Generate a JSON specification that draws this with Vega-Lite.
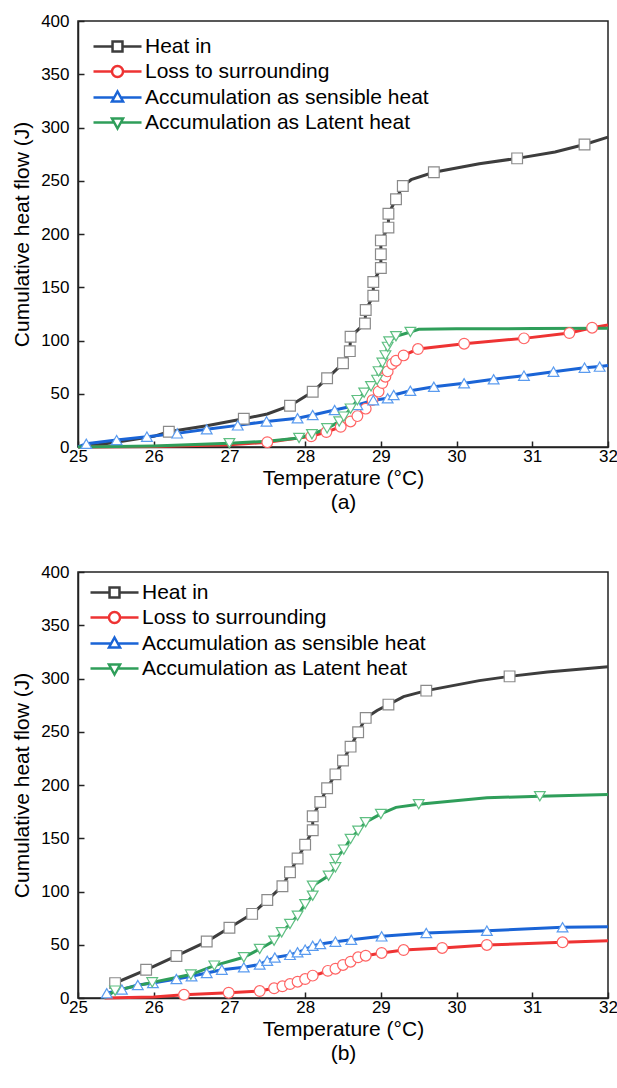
{
  "$schema": "https://vega.github.io/schema/vega-lite/v6.json",
  "padding": {"left": 10, "top": 11, "right": 0, "bottom": 5},
  "spacing": 49,
  "config": {
    "font": "Liberation Sans",
    "view": {"stroke": "#222222", "strokeWidth": 1.5},
    "axis": {
      "domainColor": "#222222", "domainWidth": 1.5,
      "tickColor": "#222222", "tickWidth": 1.5,
      "labelFont": "Liberation Sans", "labelFontSize": 17, "labelColor": "#000000",
      "titleFont": "Liberation Sans", "titleFontSize": 21, "titleFontWeight": "normal", "titleColor": "#000000",
      "grid": false, "labelFlush": false, "labelOverlap": false
    }
  },
  "datasets": {
    "lines": [
      {"panel":"a","series":"Heat in","T":25.05,"Q":0},{"panel":"a","series":"Heat in","T":25.5,"Q":4.5},{"panel":"a","series":"Heat in","T":26.0,"Q":10},{"panel":"a","series":"Heat in","T":26.2,"Q":14.4},{"panel":"a","series":"Heat in","T":26.7,"Q":20},{"panel":"a","series":"Heat in","T":27.19,"Q":26.5},{"panel":"a","series":"Heat in","T":27.5,"Q":31},{"panel":"a","series":"Heat in","T":27.8,"Q":38.8},{"panel":"a","series":"Heat in","T":28.1,"Q":51.9},{"panel":"a","series":"Heat in","T":28.29,"Q":64.5},{"panel":"a","series":"Heat in","T":28.5,"Q":78.6},{"panel":"a","series":"Heat in","T":28.59,"Q":90},{"panel":"a","series":"Heat in","T":28.6,"Q":103.6},{"panel":"a","series":"Heat in","T":28.79,"Q":116},{"panel":"a","series":"Heat in","T":28.8,"Q":128.6},{"panel":"a","series":"Heat in","T":28.9,"Q":142},{"panel":"a","series":"Heat in","T":28.9,"Q":155},{"panel":"a","series":"Heat in","T":29.0,"Q":168},{"panel":"a","series":"Heat in","T":29.0,"Q":181},{"panel":"a","series":"Heat in","T":29.0,"Q":194},{"panel":"a","series":"Heat in","T":29.1,"Q":206},{"panel":"a","series":"Heat in","T":29.1,"Q":219},{"panel":"a","series":"Heat in","T":29.2,"Q":232.6},{"panel":"a","series":"Heat in","T":29.29,"Q":245},{"panel":"a","series":"Heat in","T":29.4,"Q":251},{"panel":"a","series":"Heat in","T":29.7,"Q":258},{"panel":"a","series":"Heat in","T":30.3,"Q":266},{"panel":"a","series":"Heat in","T":30.8,"Q":271},{"panel":"a","series":"Heat in","T":31.3,"Q":277},{"panel":"a","series":"Heat in","T":31.69,"Q":284},{"panel":"a","series":"Heat in","T":32.0,"Q":291},
      {"panel":"a","series":"Loss to surrounding","T":25.0,"Q":0},{"panel":"a","series":"Loss to surrounding","T":26.0,"Q":0.5},{"panel":"a","series":"Loss to surrounding","T":27.0,"Q":2},{"panel":"a","series":"Loss to surrounding","T":27.5,"Q":4.5},{"panel":"a","series":"Loss to surrounding","T":28.08,"Q":10},{"panel":"a","series":"Loss to surrounding","T":28.28,"Q":14},{"panel":"a","series":"Loss to surrounding","T":28.47,"Q":19},{"panel":"a","series":"Loss to surrounding","T":28.6,"Q":24},{"panel":"a","series":"Loss to surrounding","T":28.69,"Q":29},{"panel":"a","series":"Loss to surrounding","T":28.8,"Q":36},{"panel":"a","series":"Loss to surrounding","T":28.89,"Q":44},{"panel":"a","series":"Loss to surrounding","T":28.97,"Q":52},{"panel":"a","series":"Loss to surrounding","T":29.02,"Q":60},{"panel":"a","series":"Loss to surrounding","T":29.06,"Q":66},{"panel":"a","series":"Loss to surrounding","T":29.09,"Q":71},{"panel":"a","series":"Loss to surrounding","T":29.15,"Q":78},{"panel":"a","series":"Loss to surrounding","T":29.2,"Q":81},{"panel":"a","series":"Loss to surrounding","T":29.3,"Q":86},{"panel":"a","series":"Loss to surrounding","T":29.49,"Q":92},{"panel":"a","series":"Loss to surrounding","T":30.1,"Q":97},{"panel":"a","series":"Loss to surrounding","T":30.89,"Q":102},{"panel":"a","series":"Loss to surrounding","T":31.49,"Q":107},{"panel":"a","series":"Loss to surrounding","T":31.79,"Q":112},{"panel":"a","series":"Loss to surrounding","T":32.0,"Q":114.5},
      {"panel":"a","series":"Accumulation as sensible heat","T":25.0,"Q":0},{"panel":"a","series":"Accumulation as sensible heat","T":25.11,"Q":3},{"panel":"a","series":"Accumulation as sensible heat","T":25.51,"Q":6.5},{"panel":"a","series":"Accumulation as sensible heat","T":25.91,"Q":9.7},{"panel":"a","series":"Accumulation as sensible heat","T":26.31,"Q":12.8},{"panel":"a","series":"Accumulation as sensible heat","T":26.7,"Q":16.6},{"panel":"a","series":"Accumulation as sensible heat","T":27.11,"Q":20.3},{"panel":"a","series":"Accumulation as sensible heat","T":27.49,"Q":24},{"panel":"a","series":"Accumulation as sensible heat","T":27.9,"Q":27},{"panel":"a","series":"Accumulation as sensible heat","T":28.1,"Q":30},{"panel":"a","series":"Accumulation as sensible heat","T":28.39,"Q":34.7},{"panel":"a","series":"Accumulation as sensible heat","T":28.69,"Q":39.4},{"panel":"a","series":"Accumulation as sensible heat","T":28.9,"Q":44},{"panel":"a","series":"Accumulation as sensible heat","T":29.09,"Q":45.7},{"panel":"a","series":"Accumulation as sensible heat","T":29.17,"Q":48.8},{"panel":"a","series":"Accumulation as sensible heat","T":29.39,"Q":52.8},{"panel":"a","series":"Accumulation as sensible heat","T":29.7,"Q":56.6},{"panel":"a","series":"Accumulation as sensible heat","T":30.1,"Q":59.8},{"panel":"a","series":"Accumulation as sensible heat","T":30.49,"Q":63.6},{"panel":"a","series":"Accumulation as sensible heat","T":30.89,"Q":67},{"panel":"a","series":"Accumulation as sensible heat","T":31.28,"Q":70.7},{"panel":"a","series":"Accumulation as sensible heat","T":31.69,"Q":74.5},{"panel":"a","series":"Accumulation as sensible heat","T":31.89,"Q":75.5},{"panel":"a","series":"Accumulation as sensible heat","T":32.0,"Q":76.5},
      {"panel":"a","series":"Accumulation as Latent heat","T":25.0,"Q":0},{"panel":"a","series":"Accumulation as Latent heat","T":26.0,"Q":1},{"panel":"a","series":"Accumulation as Latent heat","T":27.0,"Q":3.5},{"panel":"a","series":"Accumulation as Latent heat","T":27.5,"Q":5.5},{"panel":"a","series":"Accumulation as Latent heat","T":27.92,"Q":8.5},{"panel":"a","series":"Accumulation as Latent heat","T":28.09,"Q":12},{"panel":"a","series":"Accumulation as Latent heat","T":28.29,"Q":17.5},{"panel":"a","series":"Accumulation as Latent heat","T":28.45,"Q":24},{"panel":"a","series":"Accumulation as Latent heat","T":28.51,"Q":28.5},{"panel":"a","series":"Accumulation as Latent heat","T":28.6,"Q":36},{"panel":"a","series":"Accumulation as Latent heat","T":28.69,"Q":44},{"panel":"a","series":"Accumulation as Latent heat","T":28.78,"Q":51},{"panel":"a","series":"Accumulation as Latent heat","T":28.87,"Q":57},{"panel":"a","series":"Accumulation as Latent heat","T":28.95,"Q":63},{"panel":"a","series":"Accumulation as Latent heat","T":28.97,"Q":71},{"panel":"a","series":"Accumulation as Latent heat","T":29.02,"Q":79},{"panel":"a","series":"Accumulation as Latent heat","T":29.06,"Q":86},{"panel":"a","series":"Accumulation as Latent heat","T":29.09,"Q":94},{"panel":"a","series":"Accumulation as Latent heat","T":29.11,"Q":99},{"panel":"a","series":"Accumulation as Latent heat","T":29.2,"Q":104},{"panel":"a","series":"Accumulation as Latent heat","T":29.39,"Q":108},{"panel":"a","series":"Accumulation as Latent heat","T":29.5,"Q":110.5},{"panel":"a","series":"Accumulation as Latent heat","T":30.0,"Q":111},{"panel":"a","series":"Accumulation as Latent heat","T":31.0,"Q":111.2},{"panel":"a","series":"Accumulation as Latent heat","T":32.0,"Q":111.5},
      {"panel":"b","series":"Heat in","T":25.45,"Q":11},{"panel":"b","series":"Heat in","T":25.49,"Q":14},{"panel":"b","series":"Heat in","T":25.9,"Q":26.5},{"panel":"b","series":"Heat in","T":26.3,"Q":39.5},{"panel":"b","series":"Heat in","T":26.7,"Q":53},{"panel":"b","series":"Heat in","T":27.0,"Q":66},{"panel":"b","series":"Heat in","T":27.3,"Q":79},{"panel":"b","series":"Heat in","T":27.5,"Q":92},{"panel":"b","series":"Heat in","T":27.7,"Q":105},{"panel":"b","series":"Heat in","T":27.8,"Q":118},{"panel":"b","series":"Heat in","T":27.9,"Q":131},{"panel":"b","series":"Heat in","T":28.0,"Q":144},{"panel":"b","series":"Heat in","T":28.1,"Q":157.5},{"panel":"b","series":"Heat in","T":28.1,"Q":170.6},{"panel":"b","series":"Heat in","T":28.2,"Q":184},{"panel":"b","series":"Heat in","T":28.29,"Q":197},{"panel":"b","series":"Heat in","T":28.4,"Q":210},{"panel":"b","series":"Heat in","T":28.5,"Q":223},{"panel":"b","series":"Heat in","T":28.6,"Q":236},{"panel":"b","series":"Heat in","T":28.7,"Q":249.5},{"panel":"b","series":"Heat in","T":28.8,"Q":263},{"panel":"b","series":"Heat in","T":28.95,"Q":270},{"panel":"b","series":"Heat in","T":29.1,"Q":275.5},{"panel":"b","series":"Heat in","T":29.3,"Q":283},{"panel":"b","series":"Heat in","T":29.6,"Q":288.6},{"panel":"b","series":"Heat in","T":30.3,"Q":298},{"panel":"b","series":"Heat in","T":30.7,"Q":302},{"panel":"b","series":"Heat in","T":31.2,"Q":306},{"panel":"b","series":"Heat in","T":32.0,"Q":311},
      {"panel":"b","series":"Loss to surrounding","T":25.35,"Q":0},{"panel":"b","series":"Loss to surrounding","T":26.0,"Q":1},{"panel":"b","series":"Loss to surrounding","T":26.4,"Q":3},{"panel":"b","series":"Loss to surrounding","T":26.99,"Q":5},{"panel":"b","series":"Loss to surrounding","T":27.4,"Q":6.5},{"panel":"b","series":"Loss to surrounding","T":27.59,"Q":9.1},{"panel":"b","series":"Loss to surrounding","T":27.7,"Q":11},{"panel":"b","series":"Loss to surrounding","T":27.8,"Q":13.1},{"panel":"b","series":"Loss to surrounding","T":27.9,"Q":15.3},{"panel":"b","series":"Loss to surrounding","T":28.0,"Q":17.8},{"panel":"b","series":"Loss to surrounding","T":28.1,"Q":21},{"panel":"b","series":"Loss to surrounding","T":28.2,"Q":23},{"panel":"b","series":"Loss to surrounding","T":28.3,"Q":25.5},{"panel":"b","series":"Loss to surrounding","T":28.4,"Q":27.5},{"panel":"b","series":"Loss to surrounding","T":28.5,"Q":31},{"panel":"b","series":"Loss to surrounding","T":28.6,"Q":34.1},{"panel":"b","series":"Loss to surrounding","T":28.7,"Q":38.2},{"panel":"b","series":"Loss to surrounding","T":28.8,"Q":39.7},{"panel":"b","series":"Loss to surrounding","T":29.01,"Q":42.3},{"panel":"b","series":"Loss to surrounding","T":29.3,"Q":45},{"panel":"b","series":"Loss to surrounding","T":29.81,"Q":47},{"panel":"b","series":"Loss to surrounding","T":30.4,"Q":49.8},{"panel":"b","series":"Loss to surrounding","T":31.4,"Q":52.3},{"panel":"b","series":"Loss to surrounding","T":32.0,"Q":53.8},
      {"panel":"b","series":"Accumulation as sensible heat","T":25.35,"Q":0},{"panel":"b","series":"Accumulation as sensible heat","T":25.38,"Q":4.4},{"panel":"b","series":"Accumulation as sensible heat","T":25.58,"Q":8},{"panel":"b","series":"Accumulation as sensible heat","T":25.79,"Q":12.2},{"panel":"b","series":"Accumulation as sensible heat","T":25.99,"Q":14.1},{"panel":"b","series":"Accumulation as sensible heat","T":26.3,"Q":17.8},{"panel":"b","series":"Accumulation as sensible heat","T":26.5,"Q":20.4},{"panel":"b","series":"Accumulation as sensible heat","T":26.7,"Q":23.5},{"panel":"b","series":"Accumulation as sensible heat","T":26.9,"Q":26.6},{"panel":"b","series":"Accumulation as sensible heat","T":27.19,"Q":28.8},{"panel":"b","series":"Accumulation as sensible heat","T":27.4,"Q":31.5},{"panel":"b","series":"Accumulation as sensible heat","T":27.5,"Q":35},{"panel":"b","series":"Accumulation as sensible heat","T":27.6,"Q":38},{"panel":"b","series":"Accumulation as sensible heat","T":27.8,"Q":40.5},{"panel":"b","series":"Accumulation as sensible heat","T":27.9,"Q":42.9},{"panel":"b","series":"Accumulation as sensible heat","T":28.0,"Q":45.4},{"panel":"b","series":"Accumulation as sensible heat","T":28.1,"Q":49},{"panel":"b","series":"Accumulation as sensible heat","T":28.2,"Q":50.7},{"panel":"b","series":"Accumulation as sensible heat","T":28.4,"Q":52.9},{"panel":"b","series":"Accumulation as sensible heat","T":28.61,"Q":54.7},{"panel":"b","series":"Accumulation as sensible heat","T":29.01,"Q":57.9},{"panel":"b","series":"Accumulation as sensible heat","T":29.6,"Q":61},{"panel":"b","series":"Accumulation as sensible heat","T":30.4,"Q":63.2},{"panel":"b","series":"Accumulation as sensible heat","T":31.4,"Q":66.4},{"panel":"b","series":"Accumulation as sensible heat","T":32.0,"Q":67},
      {"panel":"b","series":"Accumulation as Latent heat","T":25.35,"Q":0},{"panel":"b","series":"Accumulation as Latent heat","T":25.49,"Q":6.9},{"panel":"b","series":"Accumulation as Latent heat","T":25.98,"Q":14.7},{"panel":"b","series":"Accumulation as Latent heat","T":26.49,"Q":22},{"panel":"b","series":"Accumulation as Latent heat","T":26.8,"Q":30.4},{"panel":"b","series":"Accumulation as Latent heat","T":27.19,"Q":38.2},{"panel":"b","series":"Accumulation as Latent heat","T":27.4,"Q":46},{"panel":"b","series":"Accumulation as Latent heat","T":27.59,"Q":53.8},{"panel":"b","series":"Accumulation as Latent heat","T":27.69,"Q":61.7},{"panel":"b","series":"Accumulation as Latent heat","T":27.8,"Q":69.5},{"panel":"b","series":"Accumulation as Latent heat","T":27.9,"Q":77.3},{"panel":"b","series":"Accumulation as Latent heat","T":28.0,"Q":88},{"panel":"b","series":"Accumulation as Latent heat","T":28.1,"Q":96},{"panel":"b","series":"Accumulation as Latent heat","T":28.1,"Q":105.4},{"panel":"b","series":"Accumulation as Latent heat","T":28.31,"Q":114.8},{"panel":"b","series":"Accumulation as Latent heat","T":28.4,"Q":122.7},{"panel":"b","series":"Accumulation as Latent heat","T":28.4,"Q":130.5},{"panel":"b","series":"Accumulation as Latent heat","T":28.51,"Q":139.3},{"panel":"b","series":"Accumulation as Latent heat","T":28.6,"Q":149.3},{"panel":"b","series":"Accumulation as Latent heat","T":28.7,"Q":157.1},{"panel":"b","series":"Accumulation as Latent heat","T":28.8,"Q":165},{"panel":"b","series":"Accumulation as Latent heat","T":29.0,"Q":172.8},{"panel":"b","series":"Accumulation as Latent heat","T":29.2,"Q":179},{"panel":"b","series":"Accumulation as Latent heat","T":29.5,"Q":182},{"panel":"b","series":"Accumulation as Latent heat","T":30.4,"Q":188},{"panel":"b","series":"Accumulation as Latent heat","T":31.1,"Q":189.5},{"panel":"b","series":"Accumulation as Latent heat","T":32.0,"Q":191}
    ],
    "markers": [
      {"panel":"a","series":"Heat in","T":26.2,"Q":14.4},{"panel":"a","series":"Heat in","T":27.19,"Q":26.5},{"panel":"a","series":"Heat in","T":27.8,"Q":38.8},{"panel":"a","series":"Heat in","T":28.1,"Q":51.9},{"panel":"a","series":"Heat in","T":28.29,"Q":64.5},{"panel":"a","series":"Heat in","T":28.5,"Q":78.6},{"panel":"a","series":"Heat in","T":28.59,"Q":90},{"panel":"a","series":"Heat in","T":28.6,"Q":103.6},{"panel":"a","series":"Heat in","T":28.79,"Q":116},{"panel":"a","series":"Heat in","T":28.8,"Q":128.6},{"panel":"a","series":"Heat in","T":28.9,"Q":142},{"panel":"a","series":"Heat in","T":28.9,"Q":155},{"panel":"a","series":"Heat in","T":29.0,"Q":168},{"panel":"a","series":"Heat in","T":29.0,"Q":181},{"panel":"a","series":"Heat in","T":29.0,"Q":194},{"panel":"a","series":"Heat in","T":29.1,"Q":206},{"panel":"a","series":"Heat in","T":29.1,"Q":219},{"panel":"a","series":"Heat in","T":29.2,"Q":232.6},{"panel":"a","series":"Heat in","T":29.29,"Q":245},{"panel":"a","series":"Heat in","T":29.7,"Q":258},{"panel":"a","series":"Heat in","T":30.8,"Q":271},{"panel":"a","series":"Heat in","T":31.69,"Q":284},
      {"panel":"a","series":"Loss to surrounding","T":27.5,"Q":4.5},{"panel":"a","series":"Loss to surrounding","T":28.08,"Q":10},{"panel":"a","series":"Loss to surrounding","T":28.28,"Q":14},{"panel":"a","series":"Loss to surrounding","T":28.47,"Q":19},{"panel":"a","series":"Loss to surrounding","T":28.6,"Q":24},{"panel":"a","series":"Loss to surrounding","T":28.69,"Q":29},{"panel":"a","series":"Loss to surrounding","T":28.8,"Q":36},{"panel":"a","series":"Loss to surrounding","T":28.89,"Q":44},{"panel":"a","series":"Loss to surrounding","T":28.97,"Q":52},{"panel":"a","series":"Loss to surrounding","T":29.02,"Q":60},{"panel":"a","series":"Loss to surrounding","T":29.06,"Q":66},{"panel":"a","series":"Loss to surrounding","T":29.09,"Q":71},{"panel":"a","series":"Loss to surrounding","T":29.15,"Q":78},{"panel":"a","series":"Loss to surrounding","T":29.2,"Q":81},{"panel":"a","series":"Loss to surrounding","T":29.3,"Q":86},{"panel":"a","series":"Loss to surrounding","T":29.49,"Q":92},{"panel":"a","series":"Loss to surrounding","T":30.1,"Q":97},{"panel":"a","series":"Loss to surrounding","T":30.89,"Q":102},{"panel":"a","series":"Loss to surrounding","T":31.49,"Q":107},{"panel":"a","series":"Loss to surrounding","T":31.79,"Q":112},
      {"panel":"a","series":"Accumulation as sensible heat","T":25.11,"Q":3},{"panel":"a","series":"Accumulation as sensible heat","T":25.51,"Q":6.5},{"panel":"a","series":"Accumulation as sensible heat","T":25.91,"Q":9.7},{"panel":"a","series":"Accumulation as sensible heat","T":26.31,"Q":12.8},{"panel":"a","series":"Accumulation as sensible heat","T":26.7,"Q":16.6},{"panel":"a","series":"Accumulation as sensible heat","T":27.11,"Q":20.3},{"panel":"a","series":"Accumulation as sensible heat","T":27.49,"Q":24},{"panel":"a","series":"Accumulation as sensible heat","T":27.9,"Q":27},{"panel":"a","series":"Accumulation as sensible heat","T":28.1,"Q":30},{"panel":"a","series":"Accumulation as sensible heat","T":28.39,"Q":34.7},{"panel":"a","series":"Accumulation as sensible heat","T":28.69,"Q":39.4},{"panel":"a","series":"Accumulation as sensible heat","T":28.9,"Q":44},{"panel":"a","series":"Accumulation as sensible heat","T":29.09,"Q":45.7},{"panel":"a","series":"Accumulation as sensible heat","T":29.17,"Q":48.8},{"panel":"a","series":"Accumulation as sensible heat","T":29.39,"Q":52.8},{"panel":"a","series":"Accumulation as sensible heat","T":29.7,"Q":56.6},{"panel":"a","series":"Accumulation as sensible heat","T":30.1,"Q":59.8},{"panel":"a","series":"Accumulation as sensible heat","T":30.49,"Q":63.6},{"panel":"a","series":"Accumulation as sensible heat","T":30.89,"Q":67},{"panel":"a","series":"Accumulation as sensible heat","T":31.28,"Q":70.7},{"panel":"a","series":"Accumulation as sensible heat","T":31.69,"Q":74.5},{"panel":"a","series":"Accumulation as sensible heat","T":31.89,"Q":75.5},
      {"panel":"a","series":"Accumulation as Latent heat","T":27.0,"Q":3.5},{"panel":"a","series":"Accumulation as Latent heat","T":27.92,"Q":8.5},{"panel":"a","series":"Accumulation as Latent heat","T":28.09,"Q":12},{"panel":"a","series":"Accumulation as Latent heat","T":28.29,"Q":17.5},{"panel":"a","series":"Accumulation as Latent heat","T":28.45,"Q":24},{"panel":"a","series":"Accumulation as Latent heat","T":28.51,"Q":28.5},{"panel":"a","series":"Accumulation as Latent heat","T":28.6,"Q":36},{"panel":"a","series":"Accumulation as Latent heat","T":28.69,"Q":44},{"panel":"a","series":"Accumulation as Latent heat","T":28.78,"Q":51},{"panel":"a","series":"Accumulation as Latent heat","T":28.87,"Q":57},{"panel":"a","series":"Accumulation as Latent heat","T":28.95,"Q":63},{"panel":"a","series":"Accumulation as Latent heat","T":28.97,"Q":71},{"panel":"a","series":"Accumulation as Latent heat","T":29.02,"Q":79},{"panel":"a","series":"Accumulation as Latent heat","T":29.06,"Q":86},{"panel":"a","series":"Accumulation as Latent heat","T":29.09,"Q":94},{"panel":"a","series":"Accumulation as Latent heat","T":29.11,"Q":99},{"panel":"a","series":"Accumulation as Latent heat","T":29.2,"Q":104},{"panel":"a","series":"Accumulation as Latent heat","T":29.39,"Q":108},
      {"panel":"b","series":"Heat in","T":25.49,"Q":14},{"panel":"b","series":"Heat in","T":25.9,"Q":26.5},{"panel":"b","series":"Heat in","T":26.3,"Q":39.5},{"panel":"b","series":"Heat in","T":26.7,"Q":53},{"panel":"b","series":"Heat in","T":27.0,"Q":66},{"panel":"b","series":"Heat in","T":27.3,"Q":79},{"panel":"b","series":"Heat in","T":27.5,"Q":92},{"panel":"b","series":"Heat in","T":27.7,"Q":105},{"panel":"b","series":"Heat in","T":27.8,"Q":118},{"panel":"b","series":"Heat in","T":27.9,"Q":131},{"panel":"b","series":"Heat in","T":28.0,"Q":144},{"panel":"b","series":"Heat in","T":28.1,"Q":157.5},{"panel":"b","series":"Heat in","T":28.1,"Q":170.6},{"panel":"b","series":"Heat in","T":28.2,"Q":184},{"panel":"b","series":"Heat in","T":28.29,"Q":197},{"panel":"b","series":"Heat in","T":28.4,"Q":210},{"panel":"b","series":"Heat in","T":28.5,"Q":223},{"panel":"b","series":"Heat in","T":28.6,"Q":236},{"panel":"b","series":"Heat in","T":28.7,"Q":249.5},{"panel":"b","series":"Heat in","T":28.8,"Q":263},{"panel":"b","series":"Heat in","T":29.1,"Q":275.5},{"panel":"b","series":"Heat in","T":29.6,"Q":288.6},{"panel":"b","series":"Heat in","T":30.7,"Q":302},
      {"panel":"b","series":"Loss to surrounding","T":26.4,"Q":3},{"panel":"b","series":"Loss to surrounding","T":26.99,"Q":5},{"panel":"b","series":"Loss to surrounding","T":27.4,"Q":6.5},{"panel":"b","series":"Loss to surrounding","T":27.59,"Q":9.1},{"panel":"b","series":"Loss to surrounding","T":27.7,"Q":11},{"panel":"b","series":"Loss to surrounding","T":27.8,"Q":13.1},{"panel":"b","series":"Loss to surrounding","T":27.9,"Q":15.3},{"panel":"b","series":"Loss to surrounding","T":28.0,"Q":17.8},{"panel":"b","series":"Loss to surrounding","T":28.1,"Q":21},{"panel":"b","series":"Loss to surrounding","T":28.3,"Q":25.5},{"panel":"b","series":"Loss to surrounding","T":28.4,"Q":27.5},{"panel":"b","series":"Loss to surrounding","T":28.5,"Q":31},{"panel":"b","series":"Loss to surrounding","T":28.6,"Q":34.1},{"panel":"b","series":"Loss to surrounding","T":28.7,"Q":38.2},{"panel":"b","series":"Loss to surrounding","T":28.8,"Q":39.7},{"panel":"b","series":"Loss to surrounding","T":29.01,"Q":42.3},{"panel":"b","series":"Loss to surrounding","T":29.3,"Q":45},{"panel":"b","series":"Loss to surrounding","T":29.81,"Q":47},{"panel":"b","series":"Loss to surrounding","T":30.4,"Q":49.8},{"panel":"b","series":"Loss to surrounding","T":31.4,"Q":52.3},
      {"panel":"b","series":"Accumulation as sensible heat","T":25.38,"Q":4.4},{"panel":"b","series":"Accumulation as sensible heat","T":25.58,"Q":8},{"panel":"b","series":"Accumulation as sensible heat","T":25.79,"Q":12.2},{"panel":"b","series":"Accumulation as sensible heat","T":25.99,"Q":14.1},{"panel":"b","series":"Accumulation as sensible heat","T":26.3,"Q":17.8},{"panel":"b","series":"Accumulation as sensible heat","T":26.5,"Q":20.4},{"panel":"b","series":"Accumulation as sensible heat","T":26.7,"Q":23.5},{"panel":"b","series":"Accumulation as sensible heat","T":26.9,"Q":26.6},{"panel":"b","series":"Accumulation as sensible heat","T":27.19,"Q":28.8},{"panel":"b","series":"Accumulation as sensible heat","T":27.4,"Q":31.5},{"panel":"b","series":"Accumulation as sensible heat","T":27.5,"Q":35},{"panel":"b","series":"Accumulation as sensible heat","T":27.6,"Q":38},{"panel":"b","series":"Accumulation as sensible heat","T":27.8,"Q":40.5},{"panel":"b","series":"Accumulation as sensible heat","T":27.9,"Q":42.9},{"panel":"b","series":"Accumulation as sensible heat","T":28.0,"Q":45.4},{"panel":"b","series":"Accumulation as sensible heat","T":28.1,"Q":49},{"panel":"b","series":"Accumulation as sensible heat","T":28.2,"Q":50.7},{"panel":"b","series":"Accumulation as sensible heat","T":28.4,"Q":52.9},{"panel":"b","series":"Accumulation as sensible heat","T":28.61,"Q":54.7},{"panel":"b","series":"Accumulation as sensible heat","T":29.01,"Q":57.9},{"panel":"b","series":"Accumulation as sensible heat","T":29.6,"Q":61},{"panel":"b","series":"Accumulation as sensible heat","T":30.4,"Q":63.2},{"panel":"b","series":"Accumulation as sensible heat","T":31.4,"Q":66.4},
      {"panel":"b","series":"Accumulation as Latent heat","T":25.49,"Q":6.9},{"panel":"b","series":"Accumulation as Latent heat","T":25.98,"Q":14.7},{"panel":"b","series":"Accumulation as Latent heat","T":26.49,"Q":22},{"panel":"b","series":"Accumulation as Latent heat","T":26.8,"Q":30.4},{"panel":"b","series":"Accumulation as Latent heat","T":27.19,"Q":38.2},{"panel":"b","series":"Accumulation as Latent heat","T":27.4,"Q":46},{"panel":"b","series":"Accumulation as Latent heat","T":27.59,"Q":53.8},{"panel":"b","series":"Accumulation as Latent heat","T":27.69,"Q":61.7},{"panel":"b","series":"Accumulation as Latent heat","T":27.8,"Q":69.5},{"panel":"b","series":"Accumulation as Latent heat","T":27.9,"Q":77.3},{"panel":"b","series":"Accumulation as Latent heat","T":28.0,"Q":88},{"panel":"b","series":"Accumulation as Latent heat","T":28.1,"Q":96},{"panel":"b","series":"Accumulation as Latent heat","T":28.1,"Q":105.4},{"panel":"b","series":"Accumulation as Latent heat","T":28.31,"Q":114.8},{"panel":"b","series":"Accumulation as Latent heat","T":28.4,"Q":122.7},{"panel":"b","series":"Accumulation as Latent heat","T":28.4,"Q":130.5},{"panel":"b","series":"Accumulation as Latent heat","T":28.51,"Q":139.3},{"panel":"b","series":"Accumulation as Latent heat","T":28.6,"Q":149.3},{"panel":"b","series":"Accumulation as Latent heat","T":28.7,"Q":157.1},{"panel":"b","series":"Accumulation as Latent heat","T":28.8,"Q":165},{"panel":"b","series":"Accumulation as Latent heat","T":29.0,"Q":172.8},{"panel":"b","series":"Accumulation as Latent heat","T":29.5,"Q":182},{"panel":"b","series":"Accumulation as Latent heat","T":31.1,"Q":189.5}
    ]
  },
  "resolve": {"legend": {"color": "independent"}, "scale": {"color": "independent"}},
  "vconcat": [
    {
      "width": 530, "height": 426,
      "layer": [
        {
          "data": {"name": "lines"},
          "transform": [{"filter": "datum.panel === 'a'"}],
          "mark": {"type": "line", "strokeWidth": 3},
          "encoding": {
            "x": {"field": "T", "type": "quantitative", "scale": {"domain": [25, 32], "nice": false, "zero": false},
              "axis": {"values": [25,25.5,26,26.5,27,27.5,28,28.5,29,29.5,30,30.5,31,31.5,32],
                "labelExpr": "datum.value % 1 === 0 ? format(datum.value, 'd') : ''",
                "tickSize": {"condition": {"test": "datum.value % 1 !== 0", "value": -3}, "value": -6},
                "labelPadding": 7, "title": ["Temperature (°C)", "(a)"], "titleLineHeight": 24, "titlePadding": 3}},
            "y": {"field": "Q", "type": "quantitative", "scale": {"domain": [0, 400], "nice": false},
              "axis": {"values": [0,25,50,75,100,125,150,175,200,225,250,275,300,325,350,375,400],
                "labelExpr": "datum.value % 50 === 0 ? datum.label : ''",
                "tickSize": {"condition": {"test": "datum.value % 50 !== 0", "value": -3}, "value": -6},
                "labelPadding": 15, "title": "Cumulative heat flow (J)", "titlePadding": 8}},
            "color": {"field": "series", "type": "nominal",
              "scale": {"domain": ["Heat in", "Loss to surrounding", "Accumulation as sensible heat", "Accumulation as Latent heat"],
                "range": ["#3d3d3d", "#ee3333", "#1a64d6", "#2f9e5a"]},
              "legend": {"title": null, "orient": "none", "legendX": 12, "legendY": 15,
                "symbolSize": 196, "symbolStrokeWidth": 2.5,
                "labelFont": "Liberation Sans", "labelFontSize": 21, "labelColor": "#000000", "labelOffset": 34, "labelLimit": 500,
                "rowPadding": 3,
                "encode": {"symbols": {"update": {"fill": {"value": "white"}, "shape": {"signal": "datum.value === 'Heat in' ? 'M-1,0H1.72M3.14,0H5.86M1.72,-0.71H3.14V0.71H1.72Z' : datum.value === 'Loss to surrounding' ? 'M-1,0H1.64M3.22,0H5.86M1.64,0A0.79,0.79 0 1,0 3.22,0A0.79,0.79 0 1,0 1.64,0Z' : datum.value === 'Accumulation as sensible heat' ? 'M-1,0H1.96M2.9,0H5.86M2.43,-0.86L3.22,0.57L1.64,0.57Z' : 'M-1,0H1.96M2.9,0H5.86M2.43,0.86L3.22,-0.57L1.64,-0.57Z'"}}}}}},
            "order": {"field": "Q", "type": "quantitative"}
          }
        },
        {
          "data": {"name": "markers"},
          "transform": [{"filter": "datum.panel === 'a'"}],
          "mark": {"type": "point", "filled": false, "fill": "white", "strokeWidth": 1.2, "size": 115, "opacity": 1},
          "encoding": {
            "x": {"field": "T", "type": "quantitative"},
            "y": {"field": "Q", "type": "quantitative"},
            "stroke": {"field": "series", "type": "nominal",
              "scale": {"domain": ["Heat in", "Loss to surrounding", "Accumulation as sensible heat", "Accumulation as Latent heat"],
                "range": ["#8a8a8a", "#ff6464", "#5a9bef", "#5fbf82"]}, "legend": null},
            "shape": {"field": "series", "type": "nominal",
              "scale": {"domain": ["Heat in", "Loss to surrounding", "Accumulation as sensible heat", "Accumulation as Latent heat"],
                "range": ["square", "circle", "triangle-up", "triangle-down"]}, "legend": null}
          }
        }
      ]
    },
    {
      "width": 530, "height": 426,
      "layer": [
        {
          "data": {"name": "lines"},
          "transform": [{"filter": "datum.panel === 'b'"}],
          "mark": {"type": "line", "strokeWidth": 3},
          "encoding": {
            "x": {"field": "T", "type": "quantitative", "scale": {"domain": [25, 32], "nice": false, "zero": false},
              "axis": {"values": [25,25.5,26,26.5,27,27.5,28,28.5,29,29.5,30,30.5,31,31.5,32],
                "labelExpr": "datum.value % 1 === 0 ? format(datum.value, 'd') : ''",
                "tickSize": {"condition": {"test": "datum.value % 1 !== 0", "value": -3}, "value": -6},
                "labelPadding": 7, "title": ["Temperature (°C)", "(b)"], "titleLineHeight": 24, "titlePadding": 3}},
            "y": {"field": "Q", "type": "quantitative", "scale": {"domain": [0, 400], "nice": false},
              "axis": {"values": [0,25,50,75,100,125,150,175,200,225,250,275,300,325,350,375,400],
                "labelExpr": "datum.value % 50 === 0 ? datum.label : ''",
                "tickSize": {"condition": {"test": "datum.value % 50 !== 0", "value": -3}, "value": -6},
                "labelPadding": 15, "title": "Cumulative heat flow (J)", "titlePadding": 8}},
            "color": {"field": "series", "type": "nominal",
              "scale": {"domain": ["Heat in", "Loss to surrounding", "Accumulation as sensible heat", "Accumulation as Latent heat"],
                "range": ["#3d3d3d", "#ee3333", "#1a64d6", "#2f9e5a"]},
              "legend": {"title": null, "orient": "none", "legendX": 9, "legendY": 10,
                "symbolSize": 196, "symbolStrokeWidth": 2.5,
                "labelFont": "Liberation Sans", "labelFontSize": 21, "labelColor": "#000000", "labelOffset": 34, "labelLimit": 500,
                "rowPadding": 3,
                "encode": {"symbols": {"update": {"fill": {"value": "white"}, "shape": {"signal": "datum.value === 'Heat in' ? 'M-1,0H1.72M3.14,0H5.86M1.72,-0.71H3.14V0.71H1.72Z' : datum.value === 'Loss to surrounding' ? 'M-1,0H1.64M3.22,0H5.86M1.64,0A0.79,0.79 0 1,0 3.22,0A0.79,0.79 0 1,0 1.64,0Z' : datum.value === 'Accumulation as sensible heat' ? 'M-1,0H1.96M2.9,0H5.86M2.43,-0.86L3.22,0.57L1.64,0.57Z' : 'M-1,0H1.96M2.9,0H5.86M2.43,0.86L3.22,-0.57L1.64,-0.57Z'"}}}}}},
            "order": {"field": "Q", "type": "quantitative"}
          }
        },
        {
          "data": {"name": "markers"},
          "transform": [{"filter": "datum.panel === 'b'"}],
          "mark": {"type": "point", "filled": false, "fill": "white", "strokeWidth": 1.2, "size": 115, "opacity": 1},
          "encoding": {
            "x": {"field": "T", "type": "quantitative"},
            "y": {"field": "Q", "type": "quantitative"},
            "stroke": {"field": "series", "type": "nominal",
              "scale": {"domain": ["Heat in", "Loss to surrounding", "Accumulation as sensible heat", "Accumulation as Latent heat"],
                "range": ["#8a8a8a", "#ff6464", "#5a9bef", "#5fbf82"]}, "legend": null},
            "shape": {"field": "series", "type": "nominal",
              "scale": {"domain": ["Heat in", "Loss to surrounding", "Accumulation as sensible heat", "Accumulation as Latent heat"],
                "range": ["square", "circle", "triangle-up", "triangle-down"]}, "legend": null}
          }
        }
      ]
    }
  ]
}
